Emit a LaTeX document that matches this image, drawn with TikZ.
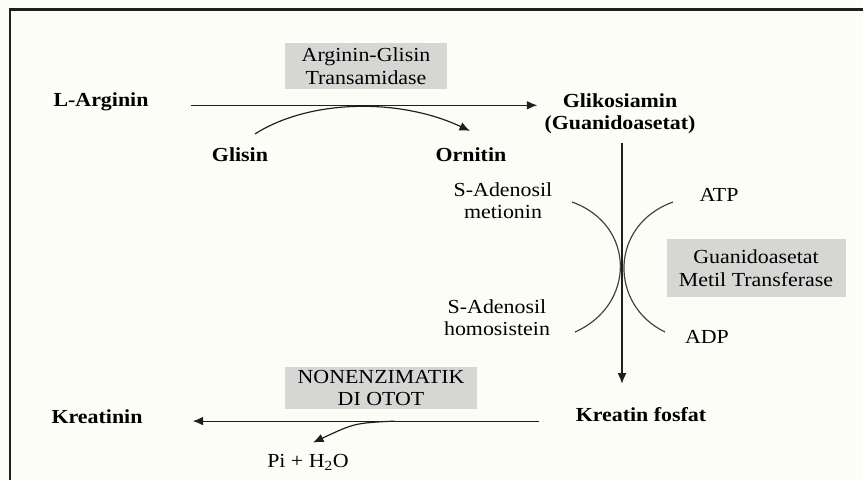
\documentclass[tikz,border=0pt]{standalone}
\usepackage{fontspec}
\setmainfont{Liberation Serif}[FakeStretch=1.1]
\usetikzlibrary{calc}
\usetikzlibrary{arrows.meta}

\definecolor{latarkrem}{RGB}{253,253,248}
\definecolor{kotakabu}{RGB}{214,214,212}
\definecolor{tinta}{RGB}{30,30,30}

\begin{document}
\begin{tikzpicture}[x=0.03cm, y=-0.03cm]

		\useasboundingbox (0,0) rectangle (863,480);
		\fill[latarkrem] (0,0) rectangle (863,480);
		\draw[line width=2.5pt, tinta] (10,481) -- (10,9.5) -- (864,9.5);

		\tikzset{Metabolit/.style = {font=\fontsize{17}{19.5}\selectfont\bfseries, align=center, inner sep=0pt}}
		\tikzset{Senyawa/.style = {font=\fontsize{17}{19.5}\selectfont, align=center, inner sep=0pt}}
		\tikzset{Enzim/.style = {Senyawa, fill=kotakabu}}

		\node[Metabolit, anchor=base]  (arg) at (101,107) {L-Arginin};
		\node[Metabolit, anchor=base]  (gly) at (240,162) {Glisin};
		\node[Metabolit, anchor=base]  (orn) at (471,162) {Ornitin};
		\node[Metabolit, anchor=north] (gli) at (620,93)  {Glikosiamin\\(Guanidoasetat)};
		\node[Metabolit, anchor=base]  (kf)  at (641,421) {Kreatin fosfat};
		\node[Metabolit, anchor=base]  (krn) at (97,423)  {Kreatinin};

		\node[Senyawa, anchor=north] (sam) at (503,182) {S-Adenosil\\metionin};
		\node[Senyawa, anchor=north] (sah) at (497,299) {S-Adenosil\\homosistein};
		\node[Senyawa, anchor=base]  (atp) at (719,202) {ATP};
		\node[Senyawa, anchor=base]  (adp) at (707,343) {ADP};
		\node[Senyawa, anchor=base]  (pi)  at (308,467) {Pi + H\textsubscript{2}O};

		\node[Enzim, minimum width=4.86cm, minimum height=1.38cm] (agat)   at (366,66)  {Arginin-Glisin\\Transamidase};
		\node[Enzim, minimum width=5.37cm, minimum height=1.71cm] (gamt)   at (756,268) {Guanidoasetat\\Metil Transferase};
		\node[Enzim, minimum width=5.76cm, minimum height=1.26cm] (nonenz) at (381,388) {NONENZIMATIK\\DI OTOT};

		% ujung panah segitiga penuh
		\tikzset{>={Latex[length=9pt,width=7.5pt]}}
		\tikzset{Reaksi/.style = {->, line width=1pt, tinta}}
		\tikzset{Busur/.style = {line width=1pt, black!75}}

		\draw[Reaksi] ($(arg.east)+(42,3)$) -- ($(arg.east -| gli.west)+(-7,3)$);
		\draw[Reaksi] ($(gly.north)+(15,-14)$) .. controls +(55,-35) and +(-70,-33) .. ($(orn.north)+(-1,-17)$);
		\draw[Reaksi] ($(gli.south)+(2,9)$) -- ($(gli.south |- kf.north)+(2,-23)$);
		\draw[Reaksi] ($(kf.west)+(-37,7)$) -- ($(kf.west -| krn.east)+(50,7)$);

		\coordinate (lepas) at ($(kf.west)+(-181,7)$);
		\draw[Reaksi] (lepas) .. controls +(-40,2) .. ($(pi.north)+(5,-11)$);

		\coordinate (samA) at (572,202);
		\coordinate (sahA) at (575,332);
		\coordinate (atpA) at (673,202);
		\coordinate (adpA) at (665,332);
		\draw[Busur] (samA) .. controls +(64,23) and +(61,-27) .. (sahA);
		\draw[Busur] (atpA) .. controls +(-64,23) and +(-56,-27) .. (adpA);

\end{tikzpicture}
\end{document}
